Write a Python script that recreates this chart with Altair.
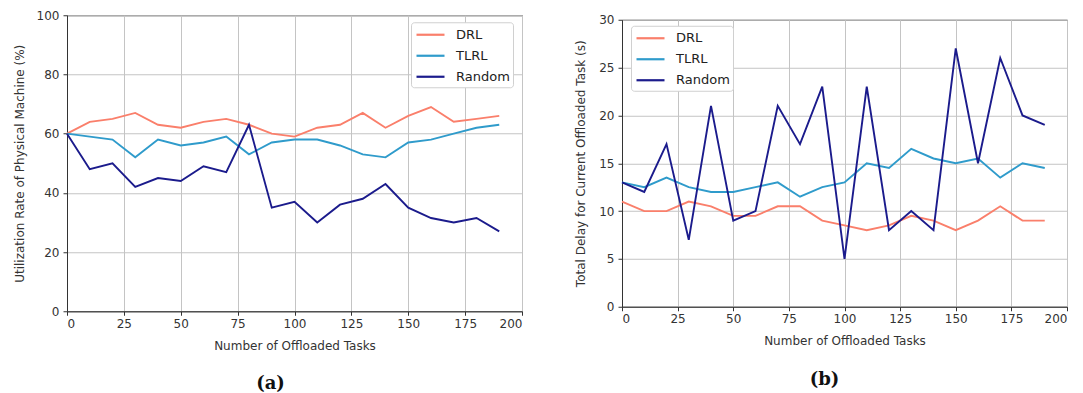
import altair as alt
import pandas as pd

tasks = list(range(0, 200, 10))
series = ["DRL", "TLRL", "Random"]
colors = ["#FA7F6B", "#2F9BCB", "#1B1B8C"]

util_drl = [60, 64, 65, 67, 63, 62, 64, 65, 63, 60, 59, 62, 63, 67, 62, 66, 69, 64, 65, 66]
util_tlrl = [60, 59, 58, 52, 58, 56, 57, 59, 53, 57, 58, 58, 56, 53, 52, 57, 58, 60, 62, 63]
util_random = [60, 48, 50, 42, 45, 44, 49, 47, 63, 35, 37, 30, 36, 38, 43, 35, 31.5, 30, 31.5, 27]

delay_drl = [11, 10, 10, 11, 10.5, 9.5, 9.5, 10.5, 10.5, 9, 8.5, 8, 8.5, 9.5, 9, 8, 9, 10.5, 9, 9]
delay_tlrl = [13, 12.5, 13.5, 12.5, 12, 12, 12.5, 13, 11.5, 12.5, 13, 15, 14.5, 16.5, 15.5, 15, 15.5, 13.5, 15, 14.5]
delay_random = [13, 12, 17, 7, 21, 9, 10, 21, 17, 23, 5, 23, 8, 10, 8, 27, 15, 26, 20, 19]

x_ticks = [0, 25, 50, 75, 100, 125, 150, 175, 200]

# legend line: 28px long, drawn in a 16px symbol box
LINE_PATH = "M-0.875,0H2.625"


def make_df(vals):
    rows = []
    for name, v in zip(series, vals):
        for t, y in zip(tasks, v):
            rows.append({"Tasks": t, "Value": y, "Method": name})
    return pd.DataFrame(rows)


def panel(df, ytitle, ymax, ystep, lx, ly, w, h, label, title_dx, ytp):
    legend = alt.Legend(
        title=None, orient="none", legendX=lx, legendY=ly,
        symbolType=LINE_PATH, symbolSize=256, symbolStrokeWidth=2.2,
        labelFontSize=13, labelFont="DejaVu Sans", labelColor="#222",
        labelOffset=23, padding=3, rowPadding=4,
        fillColor="white", strokeColor="#d0d0d0", cornerRadius=3,
    )
    color = alt.Color("Method:N", scale=alt.Scale(domain=series, range=colors), legend=legend)
    x = alt.X("Tasks:Q", scale=alt.Scale(domain=[0, 200], nice=False),
              axis=alt.Axis(values=x_ticks, title="Number of Offloaded Tasks",
                            titlePadding=11, labelPadding=3))
    y = alt.Y("Value:Q", scale=alt.Scale(domain=[0, ymax], nice=False),
              axis=alt.Axis(values=list(range(0, ymax + 1, ystep)), title=ytitle,
                            titlePadding=ytp, labelPadding=4))
    layers = []
    for s in series:
        layers.append(
            alt.Chart(df).transform_filter(alt.datum.Method == s)
            .mark_line(strokeWidth=1.9)
            .encode(x=x, y=y, color=color)
        )
    return alt.layer(*layers).properties(
        width=w, height=h,
        title=alt.TitleParams(label, orient="bottom", font="DejaVu Serif", fontSize=18,
                              fontWeight="bold", color="#111", offset=24, dx=title_dx),
    )


a = panel(make_df([util_drl, util_tlrl, util_random]),
          "Utilization Rate of Physical Machine (%)", 100, 20, 344, 7, 455, 296, "(a)", -24, 10)
b = panel(make_df([delay_drl, delay_tlrl, delay_random]),
          "Total Delay for Current Offloaded Task (s)", 30, 5, 9, 6, 445, 287, "(b)", -20, 11)

chart = (
    alt.hconcat(a, b, spacing=51, center=True)
    .resolve_scale(color="independent")
    .resolve_legend(color="independent")
    .properties(padding={"left": 4, "top": 0, "right": 0, "bottom": 0}, background="white")
    .configure_view(stroke="#333", strokeWidth=1)
    .configure_axis(
        labelFont="DejaVu Sans", labelFontSize=12, labelColor="#333",
        titleFont="DejaVu Sans", titleFontSize=12, titleFontWeight="normal", titleColor="#333",
        tickColor="#333", tickSize=4, domainColor="#333",
        gridColor="#c4c4c4", gridWidth=1,
    )
)

chart.save("out.html", embed_options={"renderer": "svg", "actions": False})
